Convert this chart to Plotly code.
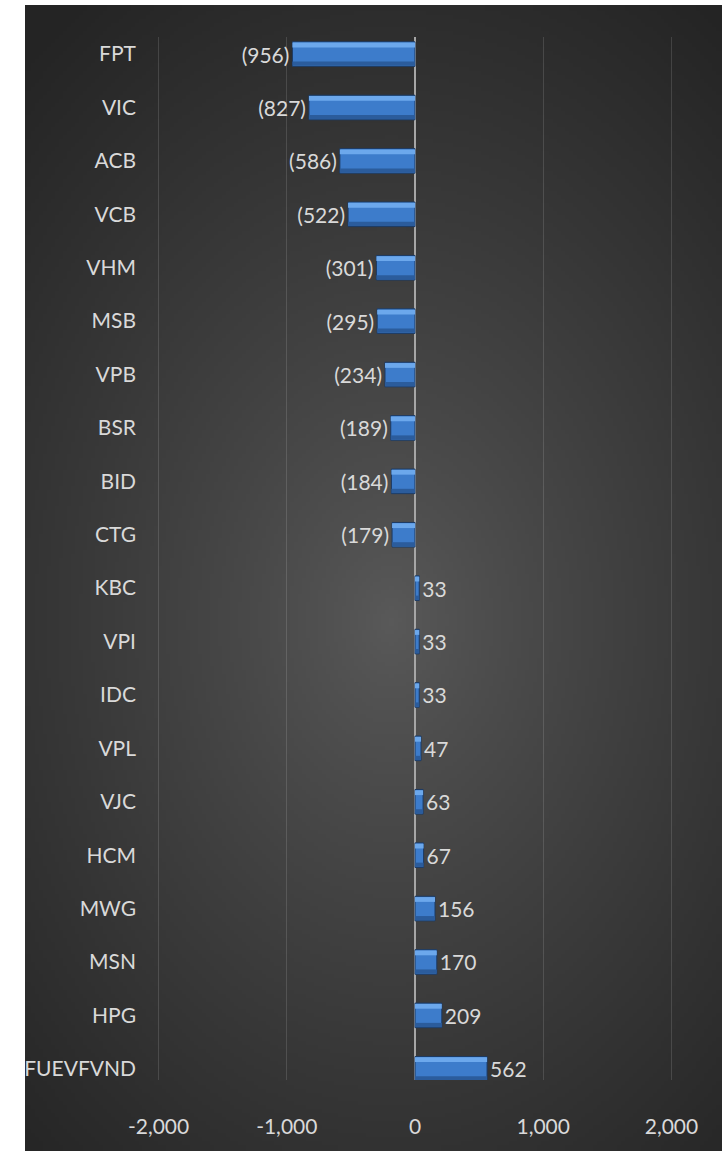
import base64
import struct
import zlib

import numpy as np
import plotly.graph_objects as go

# data
tickers = ['FPT', 'VIC', 'ACB', 'VCB', 'VHM', 'MSB', 'VPB', 'BSR', 'BID', 'CTG',
           'KBC', 'VPI', 'IDC', 'VPL', 'VJC', 'HCM', 'MWG', 'MSN', 'HPG', 'FUEVFVND']
net_values = [-956, -827, -586, -522, -301, -295, -234, -189, -184, -179,
              33, 33, 33, 47, 63, 67, 156, 170, 209, 562]
x_ticks = [-2000, -1000, 0, 1000, 2000]

W, H = 722, 1151
L, R, T, B = 157, 49, 37, 71
PW, PH = W - L - R, H - T - B


def png_uri(arr):
    """encode an HxWx3 uint8 array as a png data uri"""
    h, w, _ = arr.shape
    raw = b''.join(b'\x00' + arr[i].tobytes() for i in range(h))

    def chunk(tag, data):
        c = tag + data
        return struct.pack('>I', len(data)) + c + struct.pack('>I', zlib.crc32(c) & 0xffffffff)

    png = b'\x89PNG\r\n\x1a\n'
    png += chunk(b'IHDR', struct.pack('>IIBBBBB', w, h, 8, 2, 0, 0, 0))
    png += chunk(b'IDAT', zlib.compress(raw, 9))
    png += chunk(b'IEND', b'')
    return 'data:image/png;base64,' + base64.b64encode(png).decode()


# radial dark background (Excel style gradient fill)
bg_x0, bg_y0 = 25, 5
bg_w, bg_h = W - bg_x0, H - bg_y0
sc = 4
gx = np.arange(0, bg_w, sc) + bg_x0
gy = np.arange(0, bg_h, sc) + bg_y0
xx, yy = np.meshgrid(gx, gy)
d = np.sqrt(((xx - 390) / 560.0) ** 2 + ((yy - 620) / 760.0) ** 2)
d = np.clip(d, 0, 1)
shade = 0x5a + (0x24 - 0x5a) * d ** 0.85
img = np.repeat(shade[:, :, None], 3, axis=2).astype(np.uint8)
bg_src = png_uri(img)

labels = [f'({abs(v):,})' if v < 0 else f'{v:,}' for v in net_values]
font_col = '#d9d9d9'
fsize = 21

fig = go.Figure()

# main bar body
fig.add_trace(go.Bar(
    x=net_values, y=tickers, orientation='h',
    width=0.46, offset=-0.23,
    marker=dict(color='#3d7ccb', line=dict(color='#1c3a63', width=1)),
    text=labels, textposition='outside', cliponaxis=False,
    textfont=dict(color=font_col, size=fsize, family='Lato'),
    hoverinfo='skip'
))
# top bevel highlight
fig.add_trace(go.Bar(
    x=net_values, y=tickers, orientation='h',
    width=0.09, offset=-0.215,
    marker=dict(color='#6ca8ec', line=dict(width=0)),
    hoverinfo='skip'
))
# bottom bevel shade
fig.add_trace(go.Bar(
    x=net_values, y=tickers, orientation='h',
    width=0.08, offset=0.14,
    marker=dict(color='#2b5c9c', line=dict(width=0)),
    hoverinfo='skip'
))

fig.update_layout(
    width=W, height=H,
    margin=dict(l=L, r=R, t=T, b=B),
    paper_bgcolor='white',
    plot_bgcolor='rgba(0,0,0,0)',
    barmode='overlay',
    showlegend=False,
    font=dict(family='Lato', color=font_col, size=fsize),
    uniformtext=dict(minsize=fsize, mode='show'),
    images=[dict(
        source=bg_src, xref='paper', yref='paper',
        x=(bg_x0 - L) / PW, y=(H - B - bg_y0) / PH,
        sizex=bg_w / PW, sizey=bg_h / PH,
        xanchor='left', yanchor='top', sizing='stretch', layer='below'
    )],
)
fig.update_xaxes(
    range=[-2012, 2012], tickvals=x_ticks,
    ticktext=[f'{v:,}' for v in x_ticks],
    showgrid=True, gridcolor='rgba(255,255,255,0.13)', gridwidth=1,
    zeroline=True, zerolinecolor='#a6a6a6', zerolinewidth=2,
    showline=False, ticks='', ticklabelstandoff=32,
    tickfont=dict(size=fsize, color=font_col)
)
fig.update_yaxes(
    range=[19.21, -0.32], showgrid=False, zeroline=False, showline=False,
    ticks='', ticklabelstandoff=20,
    tickfont=dict(size=fsize, color=font_col)
)

fig.write_html('out.html', config={'displayModeBar': False},
               post_script="document.body.style.margin='0';")
